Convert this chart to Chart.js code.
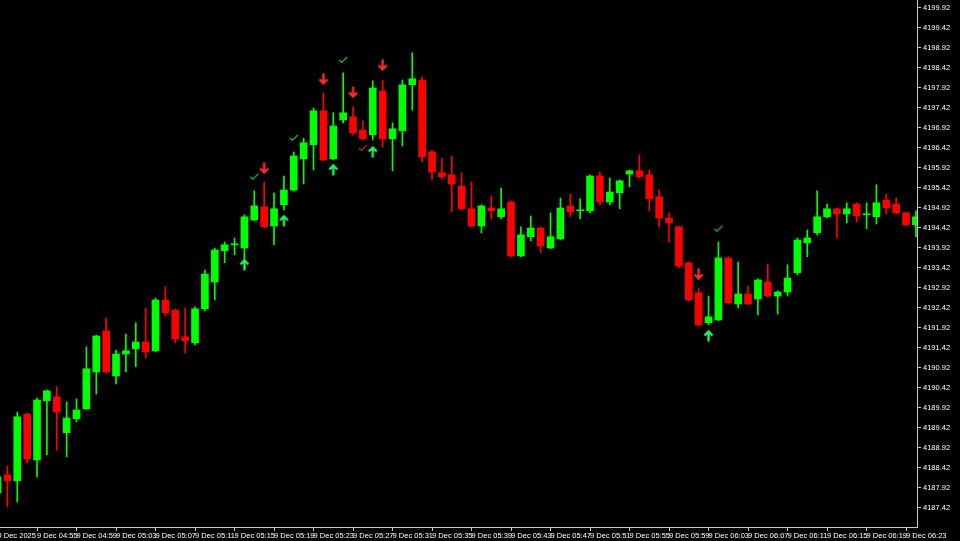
<!DOCTYPE html>
<html>
<head>
<meta charset="utf-8">
<script src="https://cdn.jsdelivr.net/npm/chart.js@4.4.1/dist/chart.umd.min.js"></script>
<style>
  html, body { margin: 0; padding: 0; background: #000; }
  #chart { display: block; }
</style>
</head>
<body>
<canvas id="chart" width="960" height="541"></canvas>
<script>
// M1 candles, 9 Dec 2025 04:51 .. 06:24 (index 0 = 04:51)
const open = [4187.80, 4188.25, 4188.10, 4189.77, 4188.62, 4190.10, 4190.20, 4189.30, 4189.65, 4189.90,
  4190.82, 4191.85, 4190.72, 4191.27, 4191.40, 4191.57, 4191.35, 4192.62, 4192.37, 4191.70,
  4191.55, 4192.40, 4193.07, 4193.85, 4194.00, 4193.92, 4194.62, 4194.95, 4194.47, 4195.00,
  4195.37, 4196.15, 4196.50, 4197.35, 4196.15, 4197.12, 4197.20, 4196.87, 4196.75, 4197.85,
  4196.65, 4196.85, 4198.00, 4198.12, 4196.32, 4195.80, 4195.75, 4195.47, 4194.90, 4194.47,
  4194.92, 4194.70, 4195.07, 4193.72, 4194.20, 4194.42, 4193.92, 4194.15, 4194.97, 4194.85,
  4194.85, 4195.72, 4195.07, 4195.30, 4195.77, 4195.85, 4195.75, 4195.20, 4194.67, 4194.45,
  4193.55, 4192.80, 4192.05, 4192.12, 4193.67, 4192.52, 4192.77, 4192.65, 4193.07, 4192.72,
  4192.82, 4193.30, 4194.05, 4194.30, 4194.70, 4194.90, 4194.77, 4195.02, 4194.75, 4194.70,
  4195.12, 4195.02, 4194.80, 4194.50];
const high = [4188.27, 4188.47, 4189.82, 4189.79, 4190.17, 4190.37, 4190.45, 4190.07, 4190.15, 4191.45,
  4191.74, 4192.17, 4191.37, 4191.77, 4192.05, 4192.42, 4192.67, 4192.95, 4192.39, 4192.42,
  4192.45, 4193.37, 4193.92, 4194.07, 4194.17, 4194.75, 4195.35, 4195.57, 4195.30, 4195.72,
  4196.32, 4196.67, 4197.42, 4197.80, 4197.30, 4198.30, 4197.45, 4197.10, 4198.10, 4198.12,
  4197.05, 4198.12, 4198.80, 4198.20, 4196.37, 4196.17, 4196.22, 4195.80, 4195.57, 4195.00,
  4195.22, 4195.42, 4195.10, 4194.45, 4194.72, 4194.45, 4194.80, 4195.17, 4195.27, 4195.15,
  4195.75, 4195.82, 4195.67, 4195.62, 4195.87, 4196.25, 4195.87, 4195.37, 4194.80, 4194.47,
  4193.57, 4192.92, 4192.72, 4194.07, 4193.70, 4193.57, 4192.97, 4193.15, 4193.52, 4192.85,
  4193.50, 4194.17, 4194.37, 4195.35, 4195.02, 4194.92, 4195.05, 4195.05, 4195.05, 4195.50,
  4195.27, 4195.17, 4194.82, 4194.85];
const low = [4187.70, 4187.45, 4187.57, 4188.55, 4188.20, 4188.75, 4188.87, 4188.70, 4189.57, 4189.88,
  4190.27, 4190.80, 4190.52, 4190.82, 4190.95, 4191.17, 4191.33, 4192.22, 4191.55, 4191.30,
  4191.50, 4192.35, 4192.62, 4193.55, 4193.75, 4193.57, 4194.60, 4194.42, 4194.00, 4194.87,
  4195.35, 4195.52, 4195.87, 4196.10, 4196.12, 4197.05, 4196.75, 4196.62, 4196.62, 4196.45,
  4195.85, 4196.47, 4197.37, 4196.07, 4195.62, 4195.65, 4194.82, 4194.87, 4194.45, 4194.30,
  4194.65, 4194.65, 4193.70, 4193.70, 4194.10, 4193.80, 4193.90, 4194.12, 4194.70, 4194.65,
  4194.80, 4195.00, 4195.00, 4194.90, 4195.45, 4195.67, 4194.85, 4194.45, 4194.07, 4193.42,
  4192.60, 4191.97, 4192.00, 4192.10, 4192.52, 4192.42, 4192.50, 4192.25, 4192.70, 4192.27,
  4192.72, 4193.25, 4193.70, 4194.25, 4194.67, 4194.17, 4194.55, 4194.57, 4194.40, 4194.52,
  4194.77, 4194.77, 4194.47, 4194.20];
const close = [4188.20, 4188.10, 4189.70, 4188.65, 4190.12, 4190.35, 4189.82, 4189.67, 4189.87, 4190.90,
  4191.72, 4190.82, 4191.27, 4191.35, 4191.57, 4191.32, 4192.62, 4192.30, 4191.65, 4191.60,
  4192.40, 4193.27, 4193.87, 4194.00, 4194.02, 4194.70, 4194.97, 4194.45, 4194.90, 4195.37,
  4196.22, 4196.55, 4197.35, 4196.12, 4196.97, 4197.30, 4196.80, 4196.65, 4197.92, 4196.65,
  4196.90, 4198.00, 4198.15, 4196.20, 4195.82, 4195.70, 4195.52, 4194.90, 4194.47, 4194.97,
  4194.85, 4194.90, 4193.72, 4194.25, 4194.42, 4193.97, 4194.20, 4194.92, 4194.82, 4194.87,
  4195.72, 4195.07, 4195.32, 4195.60, 4195.85, 4195.70, 4195.15, 4194.67, 4194.55, 4193.47,
  4192.62, 4192.00, 4192.20, 4193.67, 4192.55, 4192.77, 4192.52, 4193.12, 4192.72, 4192.82,
  4193.17, 4194.12, 4194.17, 4194.70, 4194.90, 4194.77, 4194.90, 4194.72, 4194.77, 4195.05,
  4194.92, 4194.80, 4194.50, 4194.70];

// signal markers (candle index, price)
const upIdx = [25, 29, 34, 38, 72];
const upPrice = [4193.50, 4194.60, 4195.87, 4196.32, 4191.72];
const downIdx = [27, 33, 36, 39, 71];
const downPrice = [4195.92, 4198.15, 4197.82, 4198.50, 4193.27];
const checkIdx = [26, 30, 35, 73];
const checkPrice = [4195.70, 4196.67, 4198.62, 4194.40];
const redCheckIdx = [37];
const redCheckPrice = [4196.42];

// axis ticks
const xTickIdx = [0, 4, 8, 12, 16, 20, 24, 28, 32, 36, 40, 44, 48, 52, 56, 60, 64, 68, 72, 76, 80, 84, 88, 92];
const xTickLabels = ["9 Dec 2025", "9 Dec 04:55", "9 Dec 04:59", "9 Dec 05:03", "9 Dec 05:07", "9 Dec 05:11",
  "9 Dec 05:15", "9 Dec 05:19", "9 Dec 05:23", "9 Dec 05:27", "9 Dec 05:31", "9 Dec 05:35", "9 Dec 05:39",
  "9 Dec 05:43", "9 Dec 05:47", "9 Dec 05:51", "9 Dec 05:55", "9 Dec 05:59", "9 Dec 06:03", "9 Dec 06:07",
  "9 Dec 06:11", "9 Dec 06:15", "9 Dec 06:19", "9 Dec 06:23"];
const yTicks = [4187.42, 4187.92, 4188.42, 4188.92, 4189.42, 4189.92, 4190.42, 4190.92, 4191.42, 4191.92,
  4192.42, 4192.92, 4193.42, 4193.92, 4194.42, 4194.92, 4195.42, 4195.92, 4196.42, 4196.92,
  4197.42, 4197.92, 4198.42, 4198.92, 4199.42, 4199.92];

const BULL = "#00ff00";
const BEAR = "#ff0000";
const candleColors = open.map((o, i) => close[i] >= o ? BULL : BEAR);

function arrowIcon(color, up) {
  const c = document.createElement("canvas");
  c.width = 11; c.height = 12;
  const g = c.getContext("2d");
  if (!up) { g.translate(0, 12); g.scale(1, -1); }
  g.strokeStyle = color;
  g.lineWidth = 2.4;
  g.beginPath();
  g.moveTo(5.5, 1.5); g.lineTo(5.5, 11.5);
  g.moveTo(1.5, 5.5); g.lineTo(5.5, 1.5); g.lineTo(9.5, 5.5);
  g.stroke();
  return c;
}

function checkIcon(color) {
  const c = document.createElement("canvas");
  c.width = 10; c.height = 8;
  const g = c.getContext("2d");
  g.strokeStyle = color;
  g.lineWidth = 1.2;
  g.beginPath();
  g.moveTo(1, 4); g.lineTo(3.5, 6.5); g.lineTo(9, 1);
  g.stroke();
  return c;
}

function markers(idx, price, icon) {
  return {
    type: "scatter",
    data: idx.map((x, k) => ({ x: x, y: price[k] })),
    pointStyle: icon,
    pointRadius: 6,
    order: 0
  };
}

const font = { family: "Liberation Sans", size: 7.5 };

new Chart(document.getElementById("chart"), {
  type: "bar",
  data: {
    datasets: [
      {
        label: "wick",
        data: open.map((_, i) => ({ x: i, y: [low[i], high[i]] })),
        backgroundColor: candleColors,
        barThickness: 1,
        grouped: false,
        minBarLength: 1,
        order: 2
      },
      {
        label: "body",
        data: open.map((o, i) => ({ x: i, y: [o, close[i]] })),
        backgroundColor: candleColors,
        barThickness: 7,
        grouped: false,
        minBarLength: 1,
        order: 1
      },
      markers(upIdx, upPrice, arrowIcon("#22f060", true)),
      markers(downIdx, downPrice, arrowIcon("#ff2a2a", false)),
      markers(checkIdx, checkPrice, checkIcon("#2fc02f")),
      markers(redCheckIdx, redCheckPrice, checkIcon("#c02020"))
    ]
  },
  options: {
    responsive: false,
    devicePixelRatio: 1,
    animation: false,
    layout: { padding: 0, autoPadding: false },
    plugins: { legend: { display: false }, tooltip: { enabled: false } },
    scales: {
      x: {
        type: "linear",
        position: "bottom",
        min: 0.25,
        max: 93.11,
        offset: false,
        grid: { offset: false, drawOnChartArea: false, drawTicks: true, tickLength: 4, color: "#c8c8c8" },
        border: { display: true, color: "#c8c8c8" },
        afterBuildTicks: (scale) => { scale.ticks = xTickIdx.map(v => ({ value: v })); },
        afterFit: (scale) => { scale.height = 14; scale.paddingLeft = 0; scale.paddingRight = 0; },
        ticks: {
          autoSkip: false,
          maxRotation: 0,
          align: "start",
          padding: 0,
          color: "#ffffff",
          font: font,
          callback: (v) => xTickLabels[xTickIdx.indexOf(v)]
        }
      },
      y: {
        type: "linear",
        position: "right",
        min: 4186.945,
        max: 4200.12,
        grid: { drawOnChartArea: false, drawTicks: true, tickLength: 4, color: "#c8c8c8" },
        border: { display: true, color: "#c8c8c8" },
        afterBuildTicks: (scale) => { scale.ticks = yTicks.map(v => ({ value: v })); },
        afterFit: (scale) => { scale.width = 43; scale.paddingTop = 0; scale.paddingBottom = 0; },
        ticks: {
          padding: 2,
          color: "#ffffff",
          font: font,
          callback: (v) => v.toFixed(2)
        }
      }
    }
  }
});
</script>
</body>
</html>
